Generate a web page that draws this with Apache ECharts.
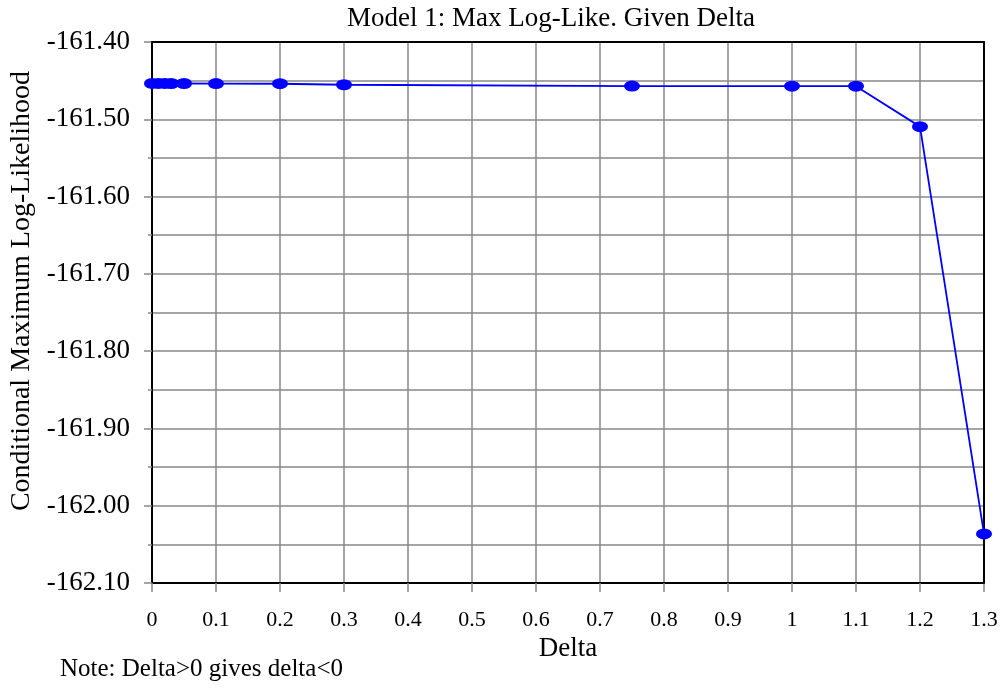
<!DOCTYPE html>
<html>
<head>
<meta charset="utf-8">
<script src="https://cdn.jsdelivr.net/npm/echarts@6/dist/echarts.min.js"></script>
<style>
html,body{margin:0;padding:0;background:#fff;}
#c{width:1001px;height:689px;}
</style>
</head>
<body>
<div id="c"></div>
<script>
const titleText = 'Model 1: Max Log-Like. Given Delta';
const xName = 'Delta';
const yName = 'Conditional Maximum Log-Likelihood';
const noteText = 'Note: Delta>0 gives delta<0';
const deltaValues = [0, 0.01, 0.02, 0.03, 0.05, 0.1, 0.2, 0.3, 0.75, 1.0, 1.1, 1.2, 1.3];
const logLikeValues = [-161.4536, -161.4536, -161.4536, -161.4537, -161.4537, -161.4538, -161.4540, -161.4553, -161.4570, -161.4571, -161.4572, -161.5095, -162.0365];
const yMin = -162.1, yMax = -161.4, yStep = 0.1;
const xMin = 0, xMax = 1.3, xStep = 0.1;

const font = 'Liberation Serif';
const chart = echarts.init(document.getElementById('c'), null, {renderer: 'canvas'});
const pts = deltaValues.map((d, i) => [d, logLikeValues[i]]);

chart.setOption({
  animation: false,
  backgroundColor: '#fff',
  title: [{
    text: titleText, left: 551, top: 5, textAlign: 'center', padding: 0,
    textStyle: {fontFamily: font, fontWeight: 'normal', fontSize: 27, color: '#000'}
  }, {
    text: noteText, left: 60, top: 657, padding: 0,
    textStyle: {fontFamily: font, fontWeight: 'normal', fontSize: 25, color: '#000'}
  }],
  graphic: [{
    type: 'text', x: 22, y: 291, rotation: Math.PI / 2,
    style: {text: yName, fontFamily: font, fontSize: 28, fill: '#000',
      align: 'center', verticalAlign: 'middle'}
  }],
  grid: {left: 152, right: 17, top: 42, bottom: 106, containLabel: false},
  xAxis: [{
    type: 'value', min: xMin, max: xMax, interval: xStep,
    name: xName, nameLocation: 'middle', nameGap: 52,
    nameTextStyle: {fontFamily: font, fontSize: 27, color: '#000'},
    axisLine: {show: true, onZero: false, lineStyle: {color: '#000', width: 2}},
    axisTick: {show: true, length: 9, lineStyle: {color: '#888', width: 1.5}},
    axisLabel: {fontFamily: font, fontSize: 22, color: '#000', margin: 26,
      formatter: v => String(Math.round(v * 10) / 10)},
    splitLine: {show: true, lineStyle: {color: '#888', width: 1.5}}
  }, {
    type: 'value', position: 'top', min: xMin, max: xMax, z: 5,
    axisLine: {show: true, onZero: false, lineStyle: {color: '#000', width: 2}},
    axisTick: {show: false}, axisLabel: {show: false}, splitLine: {show: false}
  }],
  yAxis: [{
    type: 'value', min: yMin, max: yMax, interval: yStep,
    axisLine: {show: true, onZero: false, lineStyle: {color: '#000', width: 2}},
    axisTick: {show: true, length: 8, lineStyle: {color: '#888', width: 1.5}},
    minorTick: {show: true, splitNumber: 2, length: 4, lineStyle: {color: '#888', width: 1.5}},
    minorSplitLine: {show: true, lineStyle: {color: '#888', width: 1.5}},
    axisLabel: {fontFamily: font, fontSize: 27, color: '#000', margin: 22,
      formatter: v => v.toFixed(2)},
    splitLine: {show: true, lineStyle: {color: '#888', width: 1.5}}
  }, {
    type: 'value', position: 'right', min: yMin, max: yMax, z: 5,
    axisLine: {show: true, onZero: false, lineStyle: {color: '#000', width: 2}},
    axisTick: {show: false}, axisLabel: {show: false}, splitLine: {show: false}
  }],
  series: [{
    type: 'line', data: pts, xAxisIndex: 0, yAxisIndex: 0, z: 10,
    symbol: 'circle', symbolSize: [16, 11],
    itemStyle: {color: '#0000ff'},
    lineStyle: {color: '#0000ff', width: 1.8}
  }]
});
</script>
</body>
</html>
